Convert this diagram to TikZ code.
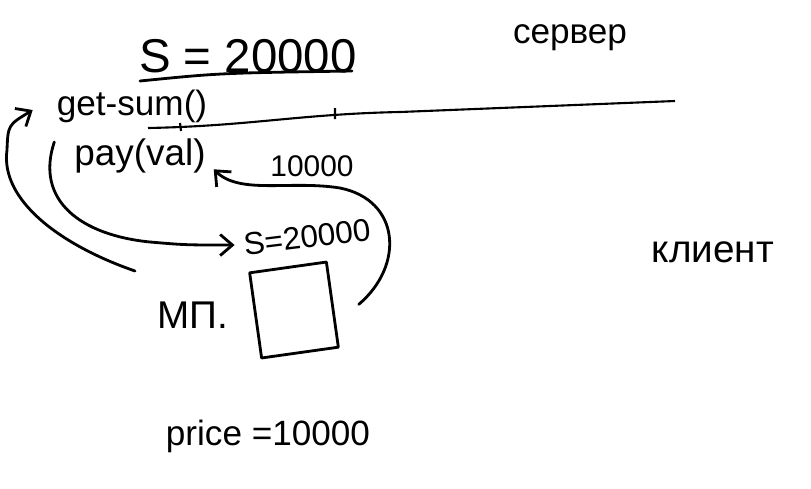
\documentclass[tikz,border=0pt]{standalone}
\usepackage{fontspec}
\setmainfont{Liberation Sans}
\usetikzlibrary{arrows.meta}
\newcommand{\fs}[1]{\fontsize{#1}{#1}\selectfont}
\tikzset{
  pen/.style={line width=1.6pt, line cap=round, line join=round},
  arr/.style={pen, -{Straight Barb[length=7pt,width=12pt,line width=1.6pt]}},
  lbl/.style={inner sep=1pt}
}
\begin{document}
\begin{tikzpicture}[x=0.02cm,y=-0.02cm]
\useasboundingbox (0,0) rectangle (811,488);
% server side
\node[lbl,font=\fs{27}] (total) at (248,56) {S = 20000};
\draw[pen] (140,81) .. controls (220,73) .. (352,71);
\node[lbl,font=\fs{20}] (server) at (570,38) {сервер};
\draw[line width=1.2pt] (148,128) .. controls (250,126) and (300,114) .. (400,112) -- (675,101);
\draw[line width=1.2pt] (335,108) -- (335,119) (180,123) -- (181,131);
\node[lbl,font=\fs{20}] (getsum) at (132,106) {get-sum()};
\node[lbl,font=\fs{21}] (pay) at (140,156) {pay(val)};
\node[lbl,font=\fs{17}] (val) at (312,166) {10000};
% client side
\node[lbl,font=\fs{18},rotate=7] (local) at (307,237) {S=20000};
\node[lbl,font=\fs{22}] (mp) at (193,315) {МП.};
\node[draw,pen,minimum width=1.55cm,minimum height=1.72cm,rotate=8] (box) at (294,310) {};
\node[lbl,font=\fs{22}] (client) at (713,252) {клиент};
\node[lbl,font=\fs{20}] (price) at (268,436) {price =10000};
% arrows
\coordinate (back) at (135,271);
\draw[arr] ([xshift=0.5cm]box.east) .. controls (405,265) and (400,200) .. (340,188)
  .. controls (290,180) and (240,195) .. ([shift={(6,-6)}]pay.south east);
\draw[arr] ([shift={(-18,-14)}]pay.west) .. controls (35,200) and (80,235) .. (150,242)
  .. controls (185,245) .. ([xshift=-4]local.west);
\draw[arr] (back) .. controls (60,245) and (0,200) .. (7,150)
  .. controls (8,125) .. ([shift={(-22,4)}]getsum.west);
\end{tikzpicture}
\end{document}
